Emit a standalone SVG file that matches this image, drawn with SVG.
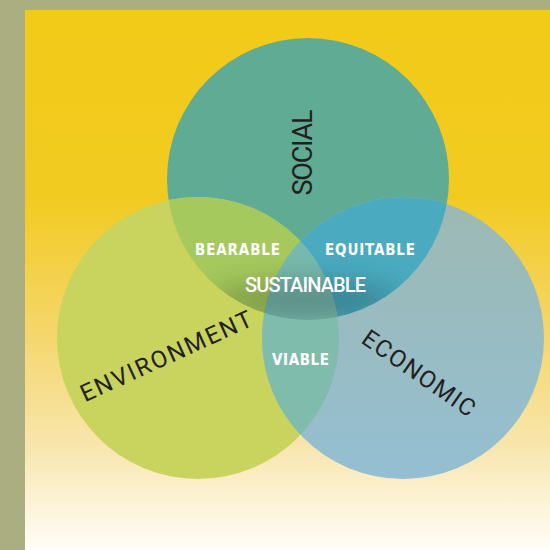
<svg xmlns="http://www.w3.org/2000/svg" width="550" height="550" viewBox="0 0 550 550">
  <defs>
    <linearGradient id="bg" x1="0" y1="10" x2="0" y2="550" gradientUnits="userSpaceOnUse">
      <stop offset="0" stop-color="#f2ca17"/>
      <stop offset="0.35" stop-color="#f2cb22"/>
      <stop offset="0.6" stop-color="#f5d66c"/>
      <stop offset="0.8" stop-color="#f8e5ab"/>
      <stop offset="1" stop-color="#fffdf8"/>
    </linearGradient>
    <linearGradient id="econ" x1="0" y1="197" x2="0" y2="479" gradientUnits="userSpaceOnUse">
      <stop offset="0" stop-color="#9db9b2"/>
      <stop offset="1" stop-color="#94bfd2"/>
    </linearGradient>
    <clipPath id="cS"><circle cx="308" cy="179" r="141"/></clipPath>
    <clipPath id="cEn"><circle cx="198" cy="338" r="141"/></clipPath>
    <filter id="blur" x="-50%" y="-100%" width="200%" height="300%">
      <feGaussianBlur stdDeviation="14"/>
    </filter>
    <style>
      .big { font-family: Roboto, "DejaVu Sans", sans-serif; font-weight: 400; fill: #231f20; text-anchor: middle; }
      .lbl { font-family: "DejaVu Sans Condensed", "DejaVu Sans", sans-serif; font-weight: bold; fill: #ffffff; text-anchor: middle; font-size: 15px; }
      .sus { font-family: Roboto, "DejaVu Sans", sans-serif; font-weight: 500; fill: #ffffff; text-anchor: middle; font-size: 20px; }
    </style>
  </defs>

  <rect x="0" y="0" width="550" height="550" fill="#abae80"/>
  <rect x="25" y="10" width="525" height="540" fill="url(#bg)"/>

  <g id="social"><circle cx="308" cy="179" r="141" fill="#60ab94"/></g>
  <g id="environment"><circle cx="198" cy="338" r="141" fill="#c8d45e"/></g>
  <g id="economic"><circle cx="403" cy="338" r="141" fill="url(#econ)"/></g>

  <g id="bearable-region" clip-path="url(#cS)"><circle cx="198" cy="338" r="141" fill="#a5c95d"/></g>
  <g id="equitable-region" clip-path="url(#cS)"><circle cx="403" cy="338" r="141" fill="#4aaabf"/></g>
  <g id="viable-region" clip-path="url(#cEn)"><circle cx="403" cy="338" r="141" fill="#7fbcab"/></g>
  <g id="sustainable-region" clip-path="url(#cS)">
    <g clip-path="url(#cEn)"><circle cx="403" cy="338" r="141" fill="#77b9ae"/></g>
    <ellipse cx="305" cy="300" rx="95" ry="18" fill="#000" opacity="0.24" filter="url(#blur)"/>
  </g>

  <g id="labels">
    <text class="big" font-size="27" textLength="86" lengthAdjust="spacing" transform="translate(302,152.5) rotate(-90)" y="9.5">SOCIAL</text>
    <text class="big" font-size="24" textLength="186" lengthAdjust="spacing" transform="translate(166,356) rotate(-24.5)" y="8.5">ENVIRONMENT</text>
    <text class="big" font-size="24" textLength="132" lengthAdjust="spacing" transform="translate(419,373) rotate(35)" y="8.5">ECONOMIC</text>
    <text class="lbl" x="237.5" y="255" textLength="85" lengthAdjust="spacing">BEARABLE</text>
    <text class="lbl" x="370" y="255" textLength="90" lengthAdjust="spacing">EQUITABLE</text>
    <text class="lbl" x="300.5" y="365" textLength="57" lengthAdjust="spacing">VIABLE</text>
    <text class="sus" x="305.5" y="292" textLength="121" lengthAdjust="spacing">SUSTAINABLE</text>
  </g>
</svg>
